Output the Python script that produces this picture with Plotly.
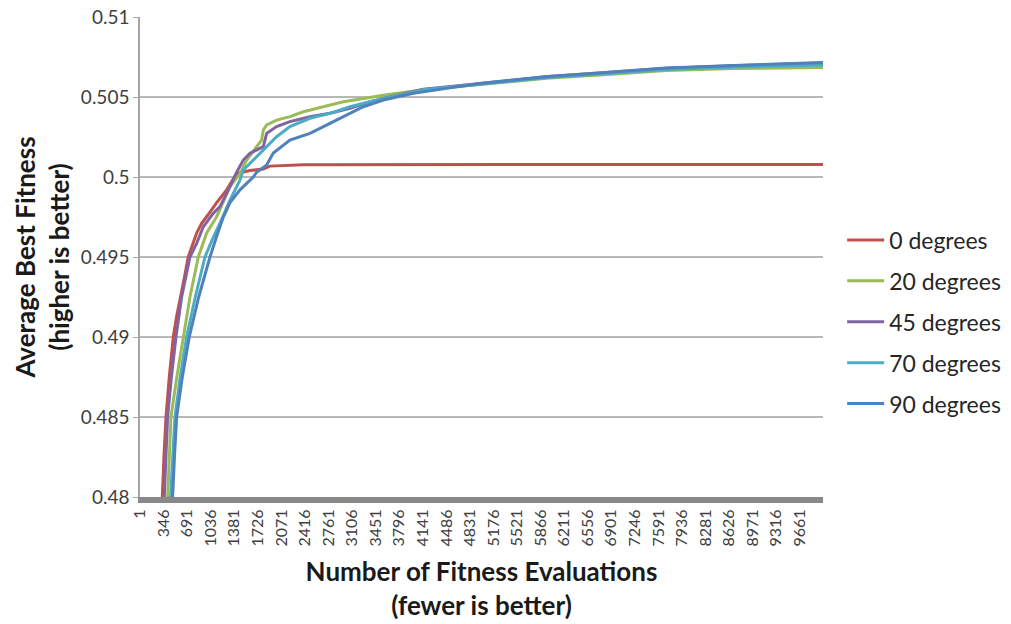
import plotly.graph_objects as go

# Average best fitness vs. number of fitness evaluations, per rotation angle
series_names = ["0 degrees", "20 degrees", "45 degrees", "70 degrees", "90 degrees"]
series_colors = ["#C0504D", "#9BBB59", "#8064A2", "#4BACC6", "#4F81BD"]

evals_0 = [300, 327, 351, 381, 429, 488, 537, 586, 650, 707, 770, 830, 903, 960,
           1025, 1123, 1200, 1269, 1340, 1416, 1500, 1611, 1806, 1903, 2391, 10000]
fitness_0 = [0.4785, 0.4800, 0.4825, 0.4850, 0.4875, 0.4900, 0.4913, 0.4923, 0.4937,
             0.4950, 0.4958, 0.4965, 0.4971, 0.4974, 0.4978, 0.4984, 0.4988, 0.4992,
             0.4997, 0.5002, 0.5003, 0.5004, 0.5005, 0.50068, 0.50077, 0.50078]

evals_20 = [370, 405, 430, 454, 540, 634, 732, 854, 976, 1123, 1318, 1464, 1562,
            1708, 1781, 1806, 1855, 2001, 2196, 2391, 2684, 2977, 3367, 3560,
            4148, 5124, 5955, 6735, 7711, 8687, 10000]
fitness_20 = [0.4785, 0.4800, 0.4825, 0.4850, 0.4875, 0.4900, 0.4925, 0.4950, 0.4965,
              0.49752, 0.4994, 0.5002, 0.50106, 0.50189, 0.5023, 0.50294, 0.50325,
              0.50356, 0.50377, 0.50408, 0.50439, 0.5047, 0.50497, 0.50511,
              0.50545, 0.50582, 0.50617, 0.50638, 0.50665, 0.50678, 0.50685]

evals_45 = [320, 356, 380, 405, 460, 527, 610, 732, 830, 927, 1073, 1171, 1318,
            1416, 1513, 1611, 1806, 1855, 2001, 2196, 2489, 2782, 3075, 3367, 3660,
            4148, 5124, 5955, 6735, 7711, 8687, 10000]
fitness_45 = [0.4785, 0.4800, 0.4825, 0.4850, 0.4875, 0.4900, 0.4925, 0.4950, 0.49585,
              0.49689, 0.49773, 0.49815, 0.4994, 0.5003, 0.50106, 0.50148, 0.5019,
              0.50273, 0.50315, 0.50346, 0.50377, 0.50398, 0.50429, 0.5047, 0.5050,
              0.50548, 0.50590, 0.50628, 0.50650, 0.50680, 0.50696, 0.50712]

evals_70 = [410, 449, 480, 512, 590, 683, 810, 952, 1060, 1171, 1318, 1464, 1513,
            1611, 1806, 2001, 2196, 2489, 2782, 3075, 3367, 3660,
            4148, 5124, 5955, 6735, 7711, 8687, 10000]
fitness_70 = [0.4785, 0.4800, 0.4825, 0.4850, 0.4875, 0.4900, 0.4925, 0.4950, 0.4961,
              0.49711, 0.49856, 0.4998, 0.50044, 0.50085, 0.50169, 0.50252, 0.50315,
              0.50367, 0.50398, 0.50439, 0.5047, 0.5050,
              0.50546, 0.50586, 0.50622, 0.50643, 0.50672, 0.50688, 0.50700]

evals_90 = [440, 478, 505, 537, 620, 722, 860, 1025, 1123, 1220, 1318, 1464, 1659,
            1708, 1855, 1952, 2196, 2489, 2782, 3075, 3270, 3563, 4002, 4490, 4978,
            5955, 6735, 7711, 8687, 10000]
fitness_90 = [0.4785, 0.4800, 0.4825, 0.4850, 0.4875, 0.4900, 0.4925, 0.4950, 0.4963,
              0.4975, 0.4984, 0.4992, 0.5000, 0.5003, 0.50075, 0.5015, 0.50231,
              0.50273, 0.50335, 0.50398, 0.50439, 0.50481, 0.50523, 0.50554, 0.50585,
              0.50627, 0.50650, 0.50681, 0.50697, 0.50715]

x_ticks = list(range(1, 10000, 345))
y_ticks = [0.48, 0.485, 0.49, 0.495, 0.5, 0.505, 0.51]
y_tick_text = ["0.48", "0.485", "0.49", "0.495", "0.5", "0.505", "0.51"]

all_evals = [evals_0, evals_20, evals_45, evals_70, evals_90]
all_fitness = [fitness_0, fitness_20, fitness_45, fitness_70, fitness_90]

FONT = "Lato"

fig = go.Figure()
for name, color, xs, ys in zip(series_names, series_colors, all_evals, all_fitness):
    fig.add_trace(go.Scatter(
        x=xs, y=ys, mode="lines", name=name, legendgroup=name,
        line=dict(color=color, width=3),
    ))

fig.update_layout(
    width=1011, height=624,
    margin=dict(l=140, r=188, t=17, b=127),
    paper_bgcolor="white", plot_bgcolor="white",
    font=dict(family=FONT, color="#404040"),
    showlegend=True,
    legend=dict(
        xref="container", yref="container",
        x=0.833, y=0.484, xanchor="left", yanchor="middle",
        font=dict(family=FONT, size=23, color="#262626"),
        tracegroupgap=8, itemwidth=37,
        bgcolor="rgba(0,0,0,0)",
    ),
    xaxis=dict(
        range=[0.5, 10000.5], automargin=False,
        tickmode="array", tickvals=x_ticks, ticktext=[str(v) for v in x_ticks],
        tickangle=-90, tickfont=dict(family=FONT, size=16, color="#404040"),
        showgrid=False, zeroline=False,
        showline=True, linecolor="#888888", linewidth=6,
        ticks="",
        title=dict(
            text="<b>Number of Fitness Evaluations<br>(fewer is better)</b>",
            font=dict(family=FONT, size=26, color="#1a1a1a"),
            standoff=19,
        ),
    ),
    yaxis=dict(
        range=[0.48, 0.51], automargin=False,
        tickmode="array", tickvals=y_ticks, ticktext=y_tick_text,
        tickfont=dict(family=FONT, size=19, color="#404040"),
        showgrid=True, gridcolor="#b8b8b8", gridwidth=1.5,
        zeroline=False,
        showline=True, linecolor="#a6a6a6", linewidth=1.5,
        ticks="outside", ticklen=5, tickcolor="#a6a6a6",
        title=dict(
            text="<b>Average Best Fitness<br>(higher is better)</b>",
            font=dict(family=FONT, size=26, color="#1a1a1a"),
            standoff=4,
        ),
    ),
)

fig.write_html("out.html")
